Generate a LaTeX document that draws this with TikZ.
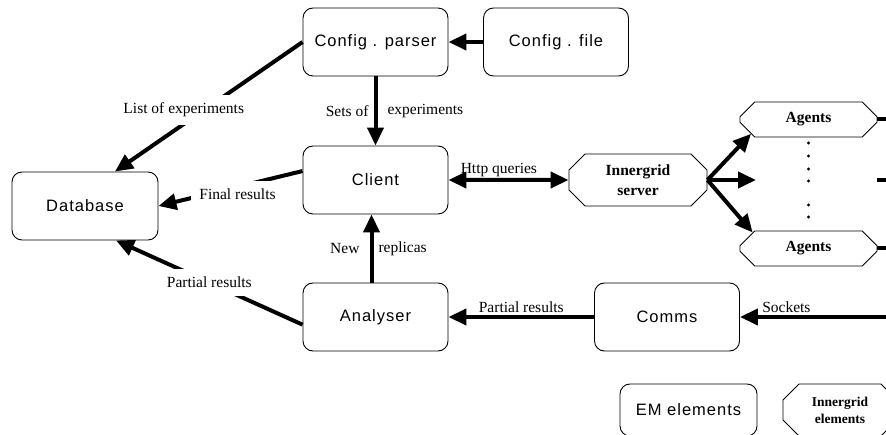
\documentclass[tikz,border=0pt]{standalone}
\usepackage{fontspec}
\setmainfont{Liberation Serif}
\newfontfamily\boxfont[LetterSpace=6]{Liberation Sans}
\usetikzlibrary{shapes.misc, arrows.meta, positioning}

\begin{document}
\begin{tikzpicture}[
  x=1pt, y=-1pt,
  bigtip/.tip={Triangle[length=18pt, width=16pt]},
  embox/.style={rectangle, rounded corners=10pt, draw, line width=0.9pt,
    minimum width=145pt, minimum height=68pt,
    font=\boxfont\fontsize{16.5}{19}\selectfont},
  igbox/.style={chamfered rectangle, chamfered rectangle xsep=8pt,
    chamfered rectangle ysep=8pt, draw, line width=0.9pt, align=center,
    inner sep=0pt, font=\bfseries\fontsize{15.5}{20}\selectfont},
  flow/.style={line width=4pt, -bigtip},
  lbl/.style={fill=white, inner sep=8pt, font=\fontsize{15.5}{18}\selectfont},
  side/.style={inner sep=5pt, font=\fontsize{15.5}{18}\selectfont}]

  \useasboundingbox (0,0) rectangle (886,435);
  \clip (0,0) rectangle (886,435);

  % EM side
  \node[embox] (parser) at (375.5,42) {Config . parser};
  \node[embox] (file) at (556,42) {Config . file};
  \node[embox] (client) at (375.5,180) {Client};
  \node[embox, minimum width=146pt] (db) at (85,206) {Database};
  \node[embox] (analyser) at (375.5,317) {Analyser};
  \node[embox] (comms) at (667,317) {Comms};

  % Innergrid side
  \node[igbox, minimum width=138pt, minimum height=52pt] (server) at (638,180) {Innergrid\\server};
  \node[igbox, minimum width=137pt, minimum height=35pt] (agentsA) at (808.5,119.5) {Agents};
  \node[igbox, minimum width=137pt, minimum height=35pt] (agentsB) at (808.5,248.5) {Agents};
  \foreach \y in {143,156,169,181,205,217}
    \fill (808.5,\y) circle (1.6pt);

  % key
  \node[embox, minimum width=137pt, minimum height=52pt] (emkey) at (688.5,410) {EM elements};
  \node[igbox, minimum width=114pt, minimum height=52pt,
    font=\bfseries\fontsize{13.5}{17}\selectfont] (igkey) at (840,410) {Innergrid\\elements};

  % connectors
  \draw[flow] (file) -- (parser);
  \draw[flow] (parser) -- node[side, left]{Sets of}
    node[side, right, inner sep=10pt]{experiments} (client);
  \draw[flow] (parser.west) -- node[lbl, xshift=-25pt, yshift=-3pt]{List of experiments} (db.49);
  \draw[flow] (client.173) -- node[lbl, xshift=7pt, yshift=-6pt]{Final results} (db.east);
  \draw[flow] (analyser.186) -- node[lbl]{Partial results} (db.312);
  \draw[flow] ([xshift=-4pt]analyser.north) -- node[side, left, inner sep=10pt]{New}
    node[side, right]{replicas} ([xshift=-4pt]client.south);
  \draw[line width=4pt, bigtip-bigtip] (client) -- node[pos=0.42, above, inner sep=1pt,
    font=\fontsize{15.5}{18}\selectfont]{Http queries} (server);
  \draw[flow] (comms) -- node[side, above, inner sep=2pt]{Partial results} (analyser);
  \coordinate (sockin) at (900,317);
  \draw[flow] (sockin) -- node[side, pos=0.71, above, inner sep=2pt]{Sockets} (comms);

  \coordinate (fan) at (756,180);
  \draw[flow] (server.east) -- (agentsA.194);
  \draw[flow] (server.east) -- (fan);
  \draw[flow] (server.east) -- (agentsB.164);

  \coordinate (outA) at (900,119.5);
  \coordinate (stubM) at (877,180);
  \coordinate (outM) at (900,180);
  \coordinate (outB) at (900,248.5);
  \draw[line width=4pt] (agentsA.east) -- (outA);
  \draw[line width=4pt] (stubM) -- (outM);
  \draw[line width=4pt] (agentsB.east) -- (outB);
\end{tikzpicture}
\end{document}
